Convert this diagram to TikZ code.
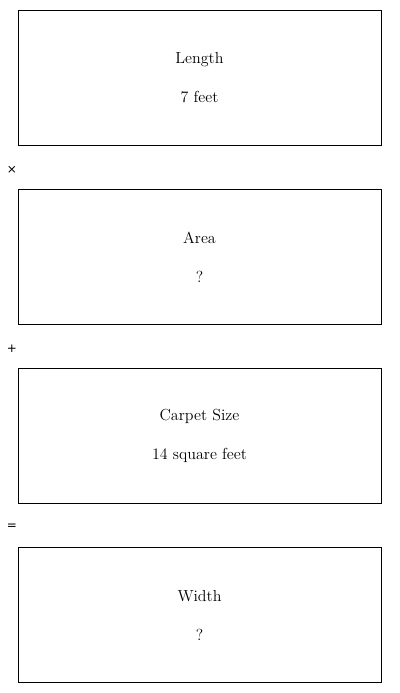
\documentclass[tikz,border=0pt]{standalone}
\usepackage{fontspec}
\newfontfamily\symfont{DejaVu Sans}
\usetikzlibrary{positioning}
\begin{document}
\begin{tikzpicture}[x=.75pt,y=-.75pt,
  box/.style={draw,line width=.75pt,minimum width=272.25pt,minimum height=101.25pt,
    align=center,inner sep=0pt,font=\fontsize{12}{29.25}\selectfont},
  op/.style={font=\symfont\fontsize{9}{10}\selectfont,inner sep=0pt}]
\useasboundingbox (0,0) rectangle (400,693);
\node[box] (len) at (199.5,78) {Length\\7 feet};
\node[box,below=32.25pt of len] (area) {Area\\?};
\node[box,below=32.25pt of area] (carpet) {Carpet Size\\14 square feet};
\node[box,below=32.25pt of carpet] (wid) {Width\\?};
\node[op] (times) at (12,170) {×};
\node[op] (plus) at (12,349) {+};
\node[op] (eq) at (12,527) {=};
\end{tikzpicture}
\end{document}
